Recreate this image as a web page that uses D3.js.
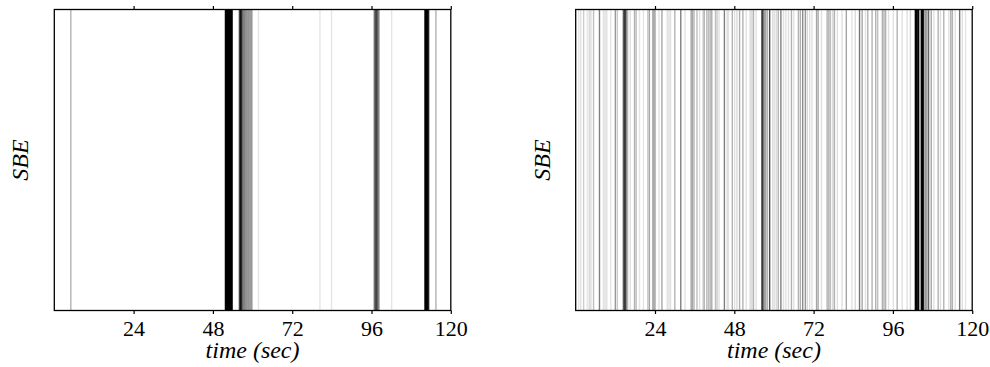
<!DOCTYPE html>
<head>
<meta charset="utf-8">
<style>
body {
    margin: 0;
    background: #fff;
}
.frame {
    fill: none;
    stroke: #000;
    stroke-width: 1.3;
}
.tick line {
    stroke: #000;
    stroke-width: 1.2;
}
.tick text {
    font-family: "Liberation Serif", "Times New Roman", serif;
    font-size: 22px;
    fill: #000;
}
.label {
    font-family: "Liberation Serif", "Times New Roman", serif;
    font-style: italic;
    fill: #000;
}
</style>
</head>
<body>
<div class="viz"></div>

<script src="https://cdnjs.cloudflare.com/ajax/libs/d3/7.8.5/d3.min.js"></script>

<script>
// event times (sec) and how dark each event line is (0..1)
const leftTimes = [5.0,
    51.8, 52.1, 52.4, 52.7, 53.0, 53.3, 53.6, 53.8,
    56.0, 56.3, 56.6, 56.9, 57.2, 57.5, 57.8, 58.1, 58.4, 58.7, 59.0, 59.3, 59.6, 59.9,
    61.8, 80.4, 83.9,
    96.8, 97.1, 97.4, 97.7, 98.0, 98.3,
    102.1,
    112.1, 112.4, 112.7, 113.0, 113.3,
    115.5];
const leftWeights = [0.3,
    1, 1, 1, 1, 1, 1, 1, 1,
    0.6, 0.9, 0.8, 0.5, 0.4, 0.4, 0.35, 0.35, 0.3, 0.35, 0.3, 0.3, 0.35, 0.25,
    0.1, 0.1, 0.1,
    0.4, 0.6, 0.7, 0.6, 0.45, 0.35,
    0.1,
    0.7, 1, 1, 1, 0.8,
    0.3];

const rightTimes = [0.9, 1.5, 2.4, 3.5, 4.1, 4.6, 5.4, 7.2, 8.4, 8.9, 9.4, 10.6,
    12.0, 12.6, 14.4, 14.7, 15.0, 15.3, 15.7, 16.5, 17.8, 18.3, 19.3, 20.5,
    21.8, 22.3, 23.3, 23.7, 24.1, 25.2, 26.1, 27.7, 28.2, 28.7, 30.0, 31.8,
    33.1, 34.9, 35.3, 35.8, 36.7, 37.5, 38.5, 38.9, 39.7, 40.3, 40.8, 41.2,
    42.3, 42.8, 43.4, 45.0, 45.8, 46.2, 47.4, 48.1, 48.8, 49.6, 50.6, 51.6,
    52.8, 53.3, 53.8, 54.6, 56.3, 56.6, 57.0, 57.5, 58.0, 58.7, 59.6, 60.1,
    60.7, 61.3, 62.1, 62.9, 63.6, 64.4, 65.3, 66.0, 67.4, 68.0, 68.7, 69.5,
    70.1, 70.8, 71.5, 72.9, 73.4, 74.4, 76.1, 76.6, 77.1, 77.8, 78.3, 79.2,
    80.6, 81.9, 83.6, 84.6, 85.9, 86.7, 87.7, 88.4, 89.7, 90.8, 91.4, 92.8,
    93.3, 93.8, 94.7, 96.1, 97.3, 98.8, 100.3, 101.3,
    102.8, 103.1, 103.4, 103.8, 104.6, 104.9, 105.3,
    105.9, 106.3, 106.8, 107.6, 108.4, 109.7, 110.4, 111.4, 112.9, 113.5,
    114.0, 114.9, 116.2, 117.0, 118.0];
const rightWeights = [0.1, 0.12, 0.2, 0.1, 0.15, 0.15, 0.25, 0.5, 0.12, 0.12, 0.12, 0.1,
    0.4, 0.2, 0.5, 0.7, 0.7, 0.45, 0.3, 0.12, 0.3, 0.25, 0.1, 0.1,
    0.2, 0.35, 0.3, 0.35, 0.25, 0.12, 0.35, 0.12, 0.12, 0.12, 0.3, 0.5,
    0.12, 0.3, 0.35, 0.3, 0.25, 0.12, 0.15, 0.3, 0.3, 0.3, 0.25, 0.3,
    0.25, 0.2, 0.12, 0.5, 0.12, 0.12, 0.3, 0.12, 0.15, 0.3, 0.3, 0.12,
    0.15, 0.15, 0.3, 0.12, 0.6, 0.7, 0.5, 0.35, 0.3, 0.7, 0.12, 0.12,
    0.15, 0.3, 0.5, 0.12, 0.12, 0.12, 0.3, 0.12, 0.3, 0.3, 0.45, 0.4,
    0.15, 0.12, 0.12, 0.35, 0.3, 0.12, 0.3, 0.3, 0.25, 0.15, 0.3, 0.12,
    0.12, 0.35, 0.12, 0.15, 0.55, 0.35, 0.12, 0.3, 0.3, 0.3, 0.25, 0.3,
    0.3, 0.3, 0.12, 0.12, 0.3, 0.12, 0.12, 0.15,
    1, 1, 0.9, 1, 1, 1, 0.9,
    0.4, 0.35, 0.6, 0.35, 0.12, 0.3, 0.12, 0.3, 0.12, 0.3,
    0.3, 0.12, 0.55, 0.12, 0.1];

const timeTicks = [24, 48, 72, 96, 120];

const svg = d3.select(".viz")
              .append("svg")
                  .attr("width", 990)
                  .attr("height", 367);

class RasterChart {
    constructor(args) {
        this.times = args.times;
        this.weights = args.weights;
        this.left = args.left;
        this.top = 9.5;
        this.width = 396.5;
        this.height = 301;

        this.g = svg.append("g")
                    .attr("transform", "translate(" + this.left + "," + this.top + ")");
        this.setScales();
        this.drawEvents();
        this.setAxes();
        this.drawLabels();
    }
    setScales() {
        this.xScale = d3.scaleLinear()
                        .domain([0, 120])
                        .range([0, this.width]);
    }
    drawEvents() {
        const data = this.times.map((t, i) => ({ t: t, w: this.weights[i] }));
        this.g.selectAll(".event")
              .data(data)
              .enter()
              .append("line")
                  .attr("class", "event")
                  .attr("x1", d => this.xScale(d.t))
                  .attr("x2", d => this.xScale(d.t))
                  .attr("y1", 0)
                  .attr("y2", this.height)
                  .attr("stroke", "#000")
                  .attr("stroke-opacity", d => d.w)
                  .attr("stroke-width", 1.4);
    }
    setAxes() {
        this.xAxis = d3.axisBottom(this.xScale)
                       .tickValues(timeTicks)
                       .tickSize(3.5)
                       .tickPadding(6.5);
        this.topAxis = d3.axisTop(this.xScale)
                         .tickValues(timeTicks)
                         .tickSize(3.5)
                         .tickFormat("");

        this.g.append("g")
              .attr("transform", "translate(0," + this.height + ")")
              .call(this.xAxis)
              .call(g => g.select(".domain").remove());
        this.g.append("g")
              .call(this.topAxis)
              .call(g => g.select(".domain").remove());

        this.g.append("rect")
              .attr("class", "frame")
              .attr("width", this.width)
              .attr("height", this.height);
    }
    drawLabels() {
        // x label sits under the tick numbers
        this.g.append("text")
              .attr("class", "label")
              .attr("x", this.width / 2)
              .attr("y", 358 - this.top)
              .attr("text-anchor", "middle")
              .style("font-size", "24px")
              .text("time (sec)");
        // y label, rotated, left of the frame
        this.g.append("text")
              .attr("class", "label")
              .attr("transform", "translate(-26," + (this.height / 2) + ") rotate(-90)")
              .attr("text-anchor", "middle")
              .style("font-size", "24px")
              .text("SBE");
    }
}

let leftChart = new RasterChart({ times: leftTimes, weights: leftWeights, left: 54.3 });
let rightChart = new RasterChart({ times: rightTimes, weights: rightWeights, left: 575.7 });
</script>
</body>
